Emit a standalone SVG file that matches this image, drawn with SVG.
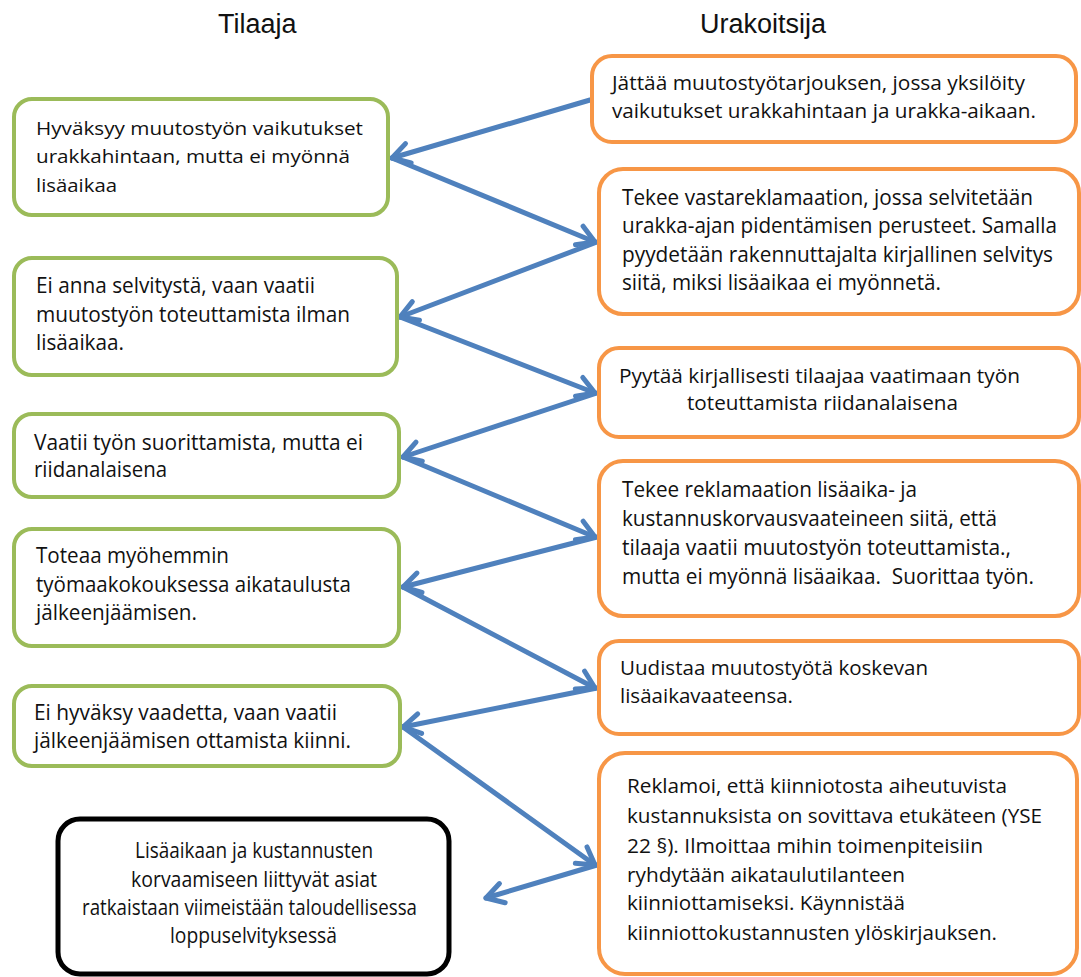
<svg xmlns="http://www.w3.org/2000/svg" width="1081" height="977" viewBox="0 0 1081 977">
<style>
.g{fill:#fff;stroke:#9BBB59;stroke-width:4}
.o{fill:#fff;stroke:#F79646;stroke-width:4}
.b{fill:#fff;stroke:#000;stroke-width:5}
.t{font-family:"Open Sans","Liberation Sans",sans-serif;font-size:20px;fill:#111}
.s{font-size:19px}
.l{font-size:21px}
.h{font-family:"Liberation Sans",Arial,sans-serif;font-size:27px;fill:#111}
.a{stroke:#4F81BD;stroke-width:5;fill:none;stroke-linecap:round;marker-end:url(#ah)}
</style>
<defs>
<marker id="ah" markerUnits="userSpaceOnUse" markerWidth="40" markerHeight="40" refX="0" refY="0" viewBox="-20 -20 40 40" orient="auto">
<path d="M-17,-10 L0,0 L-17,10" fill="none" stroke="#4F81BD" stroke-width="5" stroke-linecap="round" stroke-linejoin="round"/>
</marker>
</defs>
<rect width="1081" height="977" fill="#fff"/>
<text class="h" x="218" y="33">Tilaaja</text>
<text class="h" x="700" y="33">Urakoitsija</text>

<g id="connectors">
<line class="a" x1="590" y1="100" x2="392" y2="158"/>
<line class="a" x1="392" y1="158" x2="595" y2="242"/>
<line class="a" x1="597" y1="242" x2="400" y2="317"/>
<line class="a" x1="400" y1="317" x2="595" y2="393"/>
<line class="a" x1="597" y1="393" x2="403" y2="457"/>
<line class="a" x1="403" y1="457" x2="595" y2="537"/>
<line class="a" x1="597" y1="537" x2="403" y2="587"/>
<line class="a" x1="403" y1="587" x2="595" y2="688"/>
<line class="a" x1="597" y1="688" x2="403" y2="727"/>
<line class="a" x1="403" y1="727" x2="595" y2="865"/>
<line class="a" x1="597" y1="865" x2="486" y2="898"/>
</g>

<g id="g1"><rect class="g" x="14" y="99" width="374" height="116" rx="18"/>
<text class="t s" x="36" y="135" textLength="327" lengthAdjust="spacingAndGlyphs">Hyväksyy muutostyön vaikutukset</text>
<text class="t s" x="36" y="163" textLength="314" lengthAdjust="spacingAndGlyphs">urakkahintaan, mutta ei myönnä</text>
<text class="t s" x="36" y="192" textLength="81" lengthAdjust="spacingAndGlyphs">lisäaikaa</text></g>

<g id="g2"><rect class="g" x="14" y="258" width="383" height="117" rx="18"/>
<text class="t l" x="36" y="293" textLength="279" lengthAdjust="spacingAndGlyphs">Ei anna selvitystä, vaan vaatii</text>
<text class="t l" x="36" y="322" textLength="314" lengthAdjust="spacingAndGlyphs">muutostyön toteuttamista ilman</text>
<text class="t l" x="36" y="350" textLength="88" lengthAdjust="spacingAndGlyphs">lisäaikaa.</text></g>

<g id="g3"><rect class="g" x="14" y="414" width="385" height="83" rx="18"/>
<text class="t l" x="34" y="450" textLength="329" lengthAdjust="spacingAndGlyphs">Vaatii työn suorittamista, mutta ei</text>
<text class="t l" x="34" y="477" textLength="133" lengthAdjust="spacingAndGlyphs">riidanalaisena</text></g>

<g id="g4"><rect class="g" x="14" y="529" width="385" height="117" rx="18"/>
<text class="t l" x="36" y="563" textLength="193" lengthAdjust="spacingAndGlyphs">Toteaa myöhemmin</text>
<text class="t l" x="36" y="592" textLength="315" lengthAdjust="spacingAndGlyphs">työmaakokouksessa aikataulusta</text>
<text class="t l" x="36" y="620" textLength="161" lengthAdjust="spacingAndGlyphs">jälkeenjäämisen.</text></g>

<g id="g5"><rect class="g" x="14" y="686" width="386" height="80" rx="18"/>
<text class="t l" x="34" y="720" textLength="303" lengthAdjust="spacingAndGlyphs">Ei hyväksy vaadetta, vaan vaatii</text>
<text class="t l" x="34" y="748" textLength="317" lengthAdjust="spacingAndGlyphs">jälkeenjäämisen ottamista kiinni.</text></g>

<g id="final"><rect class="b" x="58" y="819" width="391" height="155" rx="22"/>
<text class="t l" x="135" y="858" textLength="238" lengthAdjust="spacingAndGlyphs">Lisäaikaan ja kustannusten</text>
<text class="t l" x="131" y="887" textLength="246" lengthAdjust="spacingAndGlyphs">korvaamiseen liittyvät asiat</text>
<text class="t l" x="82" y="915" textLength="335" lengthAdjust="spacingAndGlyphs">ratkaistaan viimeistään taloudellisessa</text>
<text class="t l" x="170" y="943" textLength="167" lengthAdjust="spacingAndGlyphs">loppuselvityksessä</text></g>

<g id="o1"><rect class="o" x="592" y="56" width="484" height="86" rx="20"/>
<text class="t" x="612" y="90" textLength="413" lengthAdjust="spacingAndGlyphs">Jättää muutostyötarjouksen, jossa yksilöity</text>
<text class="t" x="612" y="118" textLength="424" lengthAdjust="spacingAndGlyphs">vaikutukset urakkahintaan ja urakka-aikaan.</text></g>

<g id="o2"><rect class="o" x="599" y="169" width="480" height="145" rx="24"/>
<text class="t l" x="622" y="205" textLength="411" lengthAdjust="spacingAndGlyphs">Tekee vastareklamaation, jossa selvitetään</text>
<text class="t l" x="622" y="233" textLength="435" lengthAdjust="spacingAndGlyphs">urakka-ajan pidentämisen perusteet. Samalla</text>
<text class="t l" x="622" y="262" textLength="431" lengthAdjust="spacingAndGlyphs">pyydetään rakennuttajalta kirjallinen selvitys</text>
<text class="t l" x="622" y="290" textLength="319" lengthAdjust="spacingAndGlyphs">siitä, miksi lisäaikaa ei myönnetä.</text></g>

<g id="o3"><rect class="o" x="599" y="348" width="480" height="89" rx="20"/>
<text class="t" x="619" y="383" textLength="401" lengthAdjust="spacingAndGlyphs">Pyytää kirjallisesti tilaajaa vaatimaan työn</text>
<text class="t" x="687" y="410" textLength="271" lengthAdjust="spacingAndGlyphs">toteuttamista riidanalaisena</text></g>

<g id="o4"><rect class="o" x="599" y="461" width="480" height="155" rx="24"/>
<text class="t l" x="622" y="497" textLength="295" lengthAdjust="spacingAndGlyphs">Tekee reklamaation lisäaika- ja</text>
<text class="t l" x="622" y="526" textLength="375" lengthAdjust="spacingAndGlyphs">kustannuskorvausvaateineen siitä, että</text>
<text class="t l" x="622" y="555" textLength="389" lengthAdjust="spacingAndGlyphs">tilaaja vaatii muutostyön toteuttamista.,</text>
<text class="t l" x="622" y="584" textLength="412" lengthAdjust="spacingAndGlyphs" xml:space="preserve">mutta ei myönnä lisäaikaa.  Suorittaa työn.</text></g>

<g id="o5"><rect class="o" x="599" y="641" width="480" height="93" rx="20"/>
<text class="t" x="620" y="675" textLength="308" lengthAdjust="spacingAndGlyphs">Uudistaa muutostyötä koskevan</text>
<text class="t" x="620" y="703" textLength="173" lengthAdjust="spacingAndGlyphs">lisäaikavaateensa.</text></g>

<g id="o6"><rect class="o" x="599" y="753" width="478" height="221" rx="26"/>
<text class="t" x="627" y="793" textLength="380" lengthAdjust="spacingAndGlyphs">Reklamoi, että kiinniotosta aiheutuvista</text>
<text class="t" x="627" y="823" textLength="415" lengthAdjust="spacingAndGlyphs">kustannuksista on sovittava etukäteen (YSE</text>
<text class="t" x="627" y="853" textLength="356" lengthAdjust="spacingAndGlyphs">22 §). Ilmoittaa mihin toimenpiteisiin</text>
<text class="t" x="627" y="882" textLength="278" lengthAdjust="spacingAndGlyphs">ryhdytään aikataulutilanteen</text>
<text class="t" x="627" y="910" textLength="278" lengthAdjust="spacingAndGlyphs">kiinniottamiseksi. Käynnistää</text>
<text class="t" x="627" y="940" textLength="370" lengthAdjust="spacingAndGlyphs">kiinniottokustannusten ylöskirjauksen.</text></g>
</svg>
